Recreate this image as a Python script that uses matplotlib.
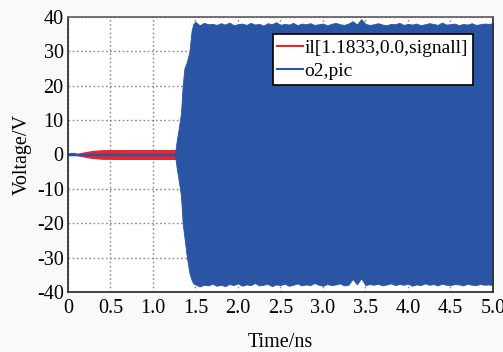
import matplotlib
matplotlib.use("Agg")
from matplotlib import pyplot as plt

plt.rcParams["font.family"] = ["Liberation Serif", "DejaVu Serif"]
plt.rcParams["axes.unicode_minus"] = False

# red signal (il) envelope
red_t = [0.0, 0.08, 0.15, 0.22, 0.30, 0.41, 0.60, 0.80, 1.00, 1.20, 1.28]
red_amp = [0.0, 0.05, 0.4, 0.75, 1.05, 1.25, 1.3, 1.3, 1.3, 1.3, 1.3]

# blue signal (o2) envelope, start-up part
blue_rise_t = [0.0, 1.26, 1.28, 1.30, 1.33, 1.35, 1.37, 1.40, 1.43, 1.455, 1.475]
blue_rise_up = [0.25, 0.25, 4.0, 7.0, 12.0, 20.0, 25.0, 27.0, 30.0, 36.0, 38.0]
blue_rise_lo = [-0.25, -0.25, -4.0, -7.0, -12.0, -20.0, -24.0, -30.0, -34.5, -36.5, -37.5]

# blue signal steady part, every 0.05 ns from 1.50 to 5.00
blue_ss_t = [1.50 + 0.05 * i for i in range(71)]
blue_ss_up = [
    38.6, 37.6, 38.3, 37.9, 38.0, 37.7, 38.2, 37.8, 38.4, 37.6,
    37.9, 38.1, 37.7, 38.3, 37.8, 38.0, 37.5, 38.2, 37.9, 38.5,
    37.7, 38.0, 37.8, 38.3, 37.6, 38.1, 37.9, 38.2, 37.7, 37.9,
    38.1, 37.6, 38.0, 38.3, 37.9, 37.7, 38.1, 38.8, 37.8, 39.4,
    38.0, 37.7, 37.9, 38.2, 37.8, 37.6, 38.0, 37.9, 38.3, 37.7,
    38.0, 37.8, 38.1, 37.6, 37.9, 38.2, 38.0, 37.7, 38.4, 37.8,
    37.9, 38.1, 37.6, 38.0, 37.8, 38.2, 37.7, 37.9, 38.1, 38.0,
    38.2,
]
blue_ss_lo = [
    -37.8, -38.4, -37.9, -38.1, -37.6, -38.2, -37.9, -38.3, -37.7, -38.0,
    -37.5, -38.2, -37.8, -38.0, -37.4, -38.1, -37.9, -37.6, -38.3, -37.8,
    -38.0, -37.6, -38.2, -37.9, -37.5, -38.1, -37.8, -38.0, -37.4, -37.9,
    -38.2, -37.7, -38.0, -37.8, -37.5, -38.1, -37.9, -36.2, -37.8, -36.0,
    -38.0, -37.7, -37.9, -37.6, -38.1, -37.8, -37.5, -38.0, -37.7, -37.9,
    -37.6, -38.2, -37.8, -38.0, -37.5, -37.9, -37.7, -38.1, -37.6, -37.9,
    -38.0, -37.7, -37.8, -38.1, -37.6, -37.9, -38.0, -37.7, -37.9, -37.8,
    -38.0,
]

x_ticks = [0, 0.5, 1.0, 1.5, 2.0, 2.5, 3.0, 3.5, 4.0, 4.5, 5.0]
x_tick_labels = ["0", "0.5", "1.0", "1.5", "2.0", "2.5", "3.0", "3.5", "4.0", "4.5", "5.0"]
y_ticks = [-40, -30, -20, -10, 0, 10, 20, 30, 40]

red = "#e8262d"
blue = "#2a55a5"

fig = plt.figure(figsize=(5.03, 3.52), dpi=100, facecolor="#f9f9f9")
ax = fig.add_axes([0.135, 0.1705, 0.845, 0.7812])
ax.set_facecolor("white")

red_lo = [-a for a in red_amp]
ax.fill_between(red_t, red_lo, red_amp, color=red, lw=0.8, zorder=2)
ax.plot(red_t[:2], [0, 0], color=blue, lw=1.5, zorder=2.5)
ax.plot([], [], color=red, lw=1.5, label="il[1.1833,0.0,signall]")

blue_t = blue_rise_t + blue_ss_t
blue_up = blue_rise_up + blue_ss_up
blue_lo = blue_rise_lo + blue_ss_lo
ax.fill_between(blue_t, blue_lo, blue_up, color=blue, lw=0.6, edgecolor=blue, zorder=3)
ax.plot([], [], color=blue, lw=1.5, label="o2,pic")

ax.set_xlim(0, 5)
ax.set_ylim(-40, 40)
ax.set_xticks(x_ticks)
ax.set_xticklabels(x_tick_labels)
ax.set_yticks(y_ticks)
ax.tick_params(length=0, labelsize=14.5)
ax.tick_params(axis="x", pad=5)
ax.tick_params(axis="y", pad=3)
ax.grid(True, color="#888888", linestyle=(0, (1.2, 1.8)), lw=1.0, zorder=1)
ax.set_axisbelow(True)

for s in ax.spines.values():
    s.set_color("#333333")
    s.set_linewidth(1.3)
    s.set_zorder(5)
ax.spines["top"].set_color("#666666")

ax.set_xlabel("Time/ns", fontsize=14.5, labelpad=11)
ax.set_ylabel("Voltage/V", fontsize=14.5, labelpad=4)

leg = ax.legend(
    loc="upper right",
    bbox_to_anchor=(0.953, 0.938),
    fontsize=14,
    handlelength=1.3,
    handletextpad=0.1,
    labelspacing=0.3,
    borderpad=0.25,
    borderaxespad=0,
    fancybox=False,
    framealpha=1,
)
leg.get_frame().set_edgecolor("black")
leg.get_frame().set_linewidth(1.2)
leg.set_zorder(10)

fig.savefig("out.png", dpi=100, facecolor=fig.get_facecolor())
